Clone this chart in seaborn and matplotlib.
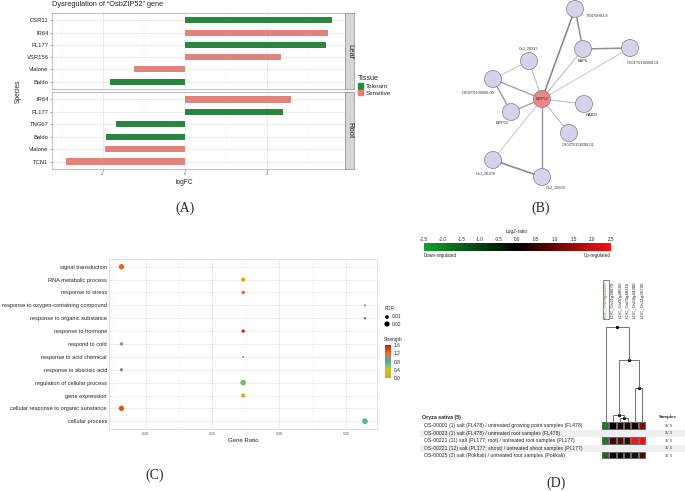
import numpy as np
import pandas as pd
import matplotlib
matplotlib.use("Agg")
import matplotlib.pyplot as plt
import seaborn as sns
from matplotlib.colors import LinearSegmentedColormap, Normalize
from matplotlib.patches import Patch, Rectangle
from matplotlib.cm import ScalarMappable

# ---------------- (A) logFC bars ----------------
leaf_species = ["CSR11", "IR64", "PL177", "VSR156", "Vialone", "Baldo"]
leaf_logfc = [3.59, 3.48, 3.44, 2.35, -1.24, -1.82]
leaf_tissue = ["Tolerant", "Sensitive", "Tolerant", "Sensitive", "Sensitive", "Tolerant"]
root_species = ["IR64", "PL177", "TNG67", "Baldo", "Vialone", "TCN1"]
root_logfc = [2.58, 2.39, -1.67, -1.92, -1.96, -2.90]
root_tissue = ["Sensitive", "Tolerant", "Tolerant", "Tolerant", "Sensitive", "Sensitive"]
tissue_names = ["Tolerant", "Sensitive"]
tissue_colors = ["#1b9438", "#f4766b"]

# ---------------- (B) interaction network ----------------
node_names = ["BZIP52", "P0475H02.8", "BAP6", "OS01T0182000-01", "OsJ_20215",
              "OS02T0196800-00", "BZIP50", "RAB25", "OS02T0158200-01",
              "OsJ_26108", "OsJ_15603"]
node_x = [542, 575, 583, 630, 529, 493, 511, 584, 569, 493, 542]
node_y = [99, 9, 49, 48, 61, 79, 112, 104, 133, 160, 177]
label_x = [542, 597, 583, 643, 529, 478, 502, 592, 578, 486, 556]
label_y = [99, 16, 61, 63, 48, 93, 123, 115, 145, 173, 187]
edge_a = ["BZIP52"] * 10 + ["P0475H02.8", "BAP6", "OS02T0196800-00", "OS02T0196800-00", "OsJ_26108"]
edge_b = ["P0475H02.8", "BAP6", "OS01T0182000-01", "OsJ_20215", "OS02T0196800-00",
          "BZIP50", "RAB25", "OS02T0158200-01", "OsJ_26108", "OsJ_15603",
          "BAP6", "OS01T0182000-01", "OsJ_20215", "BZIP50", "OsJ_15603"]
edge_w = [1.0, 0.4, 0.3, 0.4, 0.7, 0.7, 0.4, 0.4, 0.3, 0.8, 0.9, 0.9, 0.3, 0.8, 1.0]

# ---------------- (C) GO enrichment ----------------
go_terms = ["signal transduction", "RNA metabolic process", "response to stress",
            "response to oxygen-containing compound", "response to organic substance",
            "response to hormone", "respond to cold", "response to acid chemical",
            "response to abscisic acid", "regulation of cellular process",
            "gene expression", "cellular response to organic sunstance", "cellular process"]
gene_ratio = [0.182, 0.273, 0.273, 0.364, 0.364, 0.273, 0.182, 0.273, 0.182,
              0.273, 0.273, 0.182, 0.364]
strength = [1.25, 0.05, 1.25, np.nan, 1.6, 1.55, np.nan, np.nan, np.nan,
            0.62, 0.05, 1.3, 0.7]
fdr = [0.021, 0.013, 0.008, 0.003, 0.003, 0.008, 0.008, 0.003, 0.008,
       0.024, 0.013, 0.021, 0.024]
strength_ticks = [0.0, 0.4, 0.8, 1.2, 1.6]
fdr_legend = [0.01, 0.02]

# ---------------- (D) expression heatmap ----------------
gene_ids = ["LOC_Os05g41450", "LOC_Os11g38670", "LOC_Os07g48560",
            "LOC_Os03g48110", "LOC_Os03g44380", "LOC_Os11g26790"]
sample_labels = [
    "OS-00001 (1) salt (FL478) / untreated growing point samples (FL478)",
    "OS-00023 (1) salt (FL478) / untreated root samples (FL478)",
    "OS-00221 (11) salt (PL177; root) / untreated root samples (PL177)",
    "OS-00221 (12) salt (PL177; shoot) / untreated shoot samples (PL177)",
    "OS-00025 (2) salt (Pokkali) / untreated root samples (Pokkali)",
]
sample_counts = ["3/ 3", "3/ 3", "3/ 3", "3/ 3", "3/ 3"]
log2_ratio = [
    [-2.0, 0.05, 0.30, 0.20, 0.25, 1.30],
    [-2.0, 0.05, 0.20, 0.10, 0.15, 1.50],
    [-2.0, 0.70, 0.80, 0.60, 2.50, 2.50],
    [-2.0, 0.70, 0.90, 1.00, 2.50, 2.50],
    [-1.8, 0.00, 0.05, -0.30, -0.40, 0.80],
]
log2_ticks = [-2.5, -2.0, -1.5, -1.0, -0.5, 0.0, 0.5, 1.0, 1.5, 2.0, 2.5]
# column dendrogram merges (scipy-style ids: leaves 0-5, new clusters 6..)
merge_left = [2, 1, 4, 7, 0]
merge_right = [3, 6, 5, 8, 9]
merge_height = [4, 7, 34, 62, 95]

W, H = 685, 491


def px(x0, y0, x1, y1):
    return [x0 / W, 1 - y1 / H, (x1 - x0) / W, (y1 - y0) / H]


sns.set_style("white")
plt.rcParams["font.family"] = ["Liberation Sans", "DejaVu Sans"]
fig = plt.figure(figsize=(6.85, 4.91), dpi=100)

pal = dict(zip(tissue_names, tissue_colors))


def facet(rect, strip_rect, strip_text, species, logfc, tissue, show_x):
    ax = fig.add_axes(px(*rect))
    df = pd.DataFrame({"Species": species, "logFC": logfc, "Tissue": tissue})
    sns.barplot(data=df, x="logFC", y="Species", hue="Tissue", palette=pal,
                dodge=False, width=0.5, errorbar=None, legend=False, ax=ax,
                orient="h", edgecolor="none")
    ax.set_xlim(-3.24, 3.9)
    ax.set_ylim(5.6, -0.6)
    ax.set_xticks([-2, 0, 2])
    ax.set_xticks([-3, -1, 1, 3], minor=True)
    ax.set_xticklabels(["-2", "0", "2"])
    ax.grid(True, which="major", color="#e6e6e6", lw=0.5)
    ax.grid(True, which="minor", axis="x", color="#f0f0f0", lw=0.3)
    ax.set_axisbelow(True)
    for s in ax.spines.values():
        s.set_color("#b5b5b5")
        s.set_linewidth(0.6)
    ax.tick_params(axis="y", labelsize=4.2, length=1.5, width=0.4, pad=1, color="#555555", left=True)
    ax.tick_params(axis="x", labelsize=2.8, length=1.5, width=0.4, pad=1, color="#555555",
                   bottom=show_x, labelbottom=show_x, labelcolor="#555555")
    ax.set_xlabel("")
    ax.set_ylabel("")
    sax = fig.add_axes(px(*strip_rect))
    sax.set_facecolor("#d6d6d6")
    sax.set_xticks([])
    sax.set_yticks([])
    for s in sax.spines.values():
        s.set_color("#9a9a9a")
        s.set_linewidth(0.6)
    sax.text(0.5, 0.5, strip_text, rotation=-90, ha="center", va="center",
             fontsize=5.5, color="#222222", transform=sax.transAxes)


facet((52, 13, 345, 89), (345, 13, 354, 89), "Leaf", leaf_species, leaf_logfc, leaf_tissue, False)
facet((52, 92, 345, 169), (345, 92, 354, 169), "Root", root_species, root_logfc, root_tissue, True)
fig.text(52 / W, 1 - 5 / H, "Dysregulation of \u201cOsbZIP52\u201d gene", fontsize=5.3, va="center", ha="left")
fig.text(18 / W, 1 - 91 / H, "Species", rotation=90, fontsize=4.8, ha="center", va="center")
fig.text(184 / W, 1 - 182 / H, "logFC", fontsize=4.8, ha="center", va="center")
handles = [Patch(color=c, label=n) for n, c in zip(tissue_names, tissue_colors)]
leg = fig.legend(handles=handles, title="Tissue", loc="upper left",
                 bbox_to_anchor=(355 / W, 1 - 73 / H), frameon=False, fontsize=4.5,
                 title_fontsize=5.2, handlelength=0.9, handleheight=0.9,
                 handletextpad=0.4, labelspacing=0.15, borderaxespad=0)
leg._legend_box.align = "left"

# ---------------- (B) ----------------
axb = fig.add_axes(px(440, 0, 685, 200))
axb.set_xlim(440, 685)
axb.set_ylim(200, 0)
axb.axis("off")
pos = {n: (x, y) for n, x, y in zip(node_names, node_x, node_y)}
for a, b, w in zip(edge_a, edge_b, edge_w):
    g = 0.84 - 0.32 * w
    axb.plot([pos[a][0], pos[b][0]], [pos[a][1], pos[b][1]],
             color=(g, g, g + 0.04), lw=0.4 + 0.75 * w, zorder=1)
df_nodes = pd.DataFrame({"x": node_x, "y": node_y, "name": node_names})
df_nodes["hub"] = df_nodes["name"] == "BZIP52"
sns.scatterplot(data=df_nodes, x="x", y="y", hue="hub",
                palette={True: "#f08585", False: "#d4d3e8"}, s=150,
                edgecolor="#7d7d92", linewidth=0.5, legend=False, ax=axb, zorder=3)
axb.set_xlabel("")
axb.set_ylabel("")
for n, lx, ly in zip(node_names, label_x, label_y):
    axb.text(lx, ly, n, fontsize=2.8, ha="center", va="center", color="#333333", zorder=4)

# ---------------- (C) ----------------
strength_cmap = LinearSegmentedColormap.from_list(
    "strength", ["#e0a030", "#d4c61e", "#3aaec0", "#e8701c", "#c8141a"])
axc = fig.add_axes(px(109, 259, 377, 429))
df_c = pd.DataFrame({"term": go_terms, "GeneRatio": gene_ratio,
                     "Strength": strength, "FDR": fdr})
df_c["pos"] = np.arange(len(go_terms))
size_kw = dict(size="FDR", sizes=(1.5, 18), size_norm=(0.002, 0.025))
sns.scatterplot(data=df_c[df_c["Strength"].isna()], x="GeneRatio", y="pos",
                color="#8a8a8a", linewidth=0, legend=False, ax=axc, zorder=3, **size_kw)
sns.scatterplot(data=df_c[df_c["Strength"].notna()], x="GeneRatio", y="pos",
                hue="Strength", palette=strength_cmap, hue_norm=(0, 1.6),
                linewidth=0, legend=False, ax=axc, zorder=3, **size_kw)
axc.set_xlim(0.1727, 0.373)
axc.set_ylim(12.6, -0.6)
axc.set_yticks(df_c["pos"])
axc.set_yticklabels(go_terms)
axc.set_xticks([0.20, 0.25, 0.30, 0.35])
axc.set_xticks([0.175, 0.225, 0.275, 0.325], minor=True)
axc.set_xticklabels(["0.20", "0.25", "0.30", "0.35"])
axc.grid(True, which="major", color="#e8e8e8", lw=0.5)
axc.grid(True, which="minor", axis="x", color="#f1f1f1", lw=0.3)
axc.set_axisbelow(True)
for s in axc.spines.values():
    s.set_color("#dcdcdc")
    s.set_linewidth(0.6)
axc.tick_params(axis="y", labelsize=4.1, length=0, pad=1.5, labelcolor="#222222")
axc.tick_params(axis="x", labelsize=2.6, length=0, pad=2, labelcolor="#555555")
axc.set_xlabel("")
axc.set_ylabel("")
fig.text(243 / W, 1 - 441 / H, "Gene Ratio", fontsize=4.3, ha="center", va="center")

fig.text(385 / W, 1 - 309 / H, "FDR", fontsize=3.5, ha="left", va="center")
lax = fig.add_axes(px(383, 312, 405, 328))
lax.set_xlim(0, 22)
lax.set_ylim(16, 0)
lax.axis("off")
sns.scatterplot(x=[4, 4], y=[5, 12], size=fdr_legend, color="black", linewidth=0,
                legend=False, ax=lax, sizes=(1.5, 18), size_norm=(0.002, 0.025))
for v, yy in zip(fdr_legend, [5, 12]):
    lax.text(9, yy, f"{v:.2f}", fontsize=3.5, va="center", ha="left")

fig.text(384 / W, 1 - 340 / H, "Strength", fontsize=3.5, ha="left", va="center")
cax = fig.add_axes(px(385, 345, 391, 378))
cb = fig.colorbar(ScalarMappable(norm=Normalize(0, 1.6), cmap=strength_cmap),
                  cax=cax, ticks=strength_ticks)
cb.outline.set_visible(False)
cax.tick_params(labelsize=3.5, length=1, width=0.3, pad=1, color="white")
cax.set_yticklabels([f"{t:.1f}" for t in strength_ticks])

# ---------------- (D) ----------------
ratio_cmap = LinearSegmentedColormap.from_list("log2", ["#13a02b", "#000000", "#ff1010"])
fig.text(517 / W, 1 - 231 / H, "Log2-ratio", fontsize=3.5, ha="center", va="center")
cax2 = fig.add_axes(px(424, 243, 611, 251))
cb2 = fig.colorbar(ScalarMappable(norm=Normalize(-2.5, 2.5), cmap=ratio_cmap),
                   cax=cax2, orientation="horizontal", ticks=log2_ticks)
cb2.outline.set_visible(False)
cax2.xaxis.set_ticks_position("top")
cax2.set_xticklabels([f"{t:.1f}" for t in log2_ticks])
cax2.tick_params(labelsize=3.3, length=0, width=0.3, pad=0.8)
fig.text(424 / W, 1 - 256 / H, "Down-regulated", fontsize=3.3, ha="left", va="center")
fig.text(611 / W, 1 - 256 / H, "Up-regulated", fontsize=3.3, ha="right", va="center")

row_h = 7.4
row_top = 422.3
for i, (lab, cnt) in enumerate(zip(sample_labels, sample_counts)):
    yc = row_top + row_h * (i + 0.5)
    if i % 2 == 1:
        fig.patches.append(Rectangle((420 / W, 1 - (row_top + row_h * (i + 1)) / H),
                                     265 / W, row_h / H, transform=fig.transFigure,
                                     facecolor="#efefef", edgecolor="none", zorder=0))
    fig.text(424 / W, 1 - yc / H, lab, fontsize=3.7, ha="left", va="center")
    fig.text(668 / W, 1 - yc / H, cnt, fontsize=3.0, ha="center", va="center")
fig.text(422 / W, 1 - 417 / H, "Oryza sativa (5)", fontsize=3.8, fontweight="bold", ha="left", va="center")
fig.text(668 / W, 1 - 417 / H, "Samples", fontsize=3.2, fontweight="bold", ha="center", va="center")

axh = fig.add_axes(px(602, row_top, 646, row_top + 5 * row_h))
sns.heatmap(np.array(log2_ratio), ax=axh, cmap=ratio_cmap, vmin=-2.5, vmax=2.5,
            cbar=False, linewidths=0.35, linecolor="#6a6a6a",
            xticklabels=False, yticklabels=False)

axd = fig.add_axes(px(602, 320, 646, row_top))
axd.set_xlim(0, 6)
axd.set_ylim(0, row_top - 320)
axd.axis("off")
xs = {i: i + 0.5 for i in range(6)}
hs = {i: 0 for i in range(6)}
for k, (a, b, h) in enumerate(zip(merge_left, merge_right, merge_height)):
    axd.plot([xs[a], xs[a], xs[b], xs[b]], [hs[a], h, h, hs[b]], color="#5a5a5a", lw=0.6)
    xs[6 + k] = (xs[a] + xs[b]) / 2
    hs[6 + k] = h
    axd.plot(xs[6 + k], h, "o", ms=1.3, color="black")

col_w = 44 / 6
for i, g in enumerate(gene_ids):
    xc = 602 + col_w * (i + 0.5)
    kw = {}
    if i == 0:
        kw = dict(color="#2b8a2b", bbox=dict(boxstyle="square,pad=0.25", fc="white", ec="#555555", lw=0.5))
    fig.text(xc / W, 1 - 318 / H, g, rotation=90, fontsize=3.2, ha="center", va="bottom", **kw)

# ---------------- panel letters ----------------
for lab, x, y in [("(A)", 185, 208), ("(B)", 541, 208), ("(C)", 155, 475), ("(D)", 556, 483)]:
    fig.text(x / W, 1 - y / H, lab, fontsize=10, ha="center", va="center",
             family=["Liberation Serif", "DejaVu Serif"])

fig.savefig("out.png", dpi=100)
